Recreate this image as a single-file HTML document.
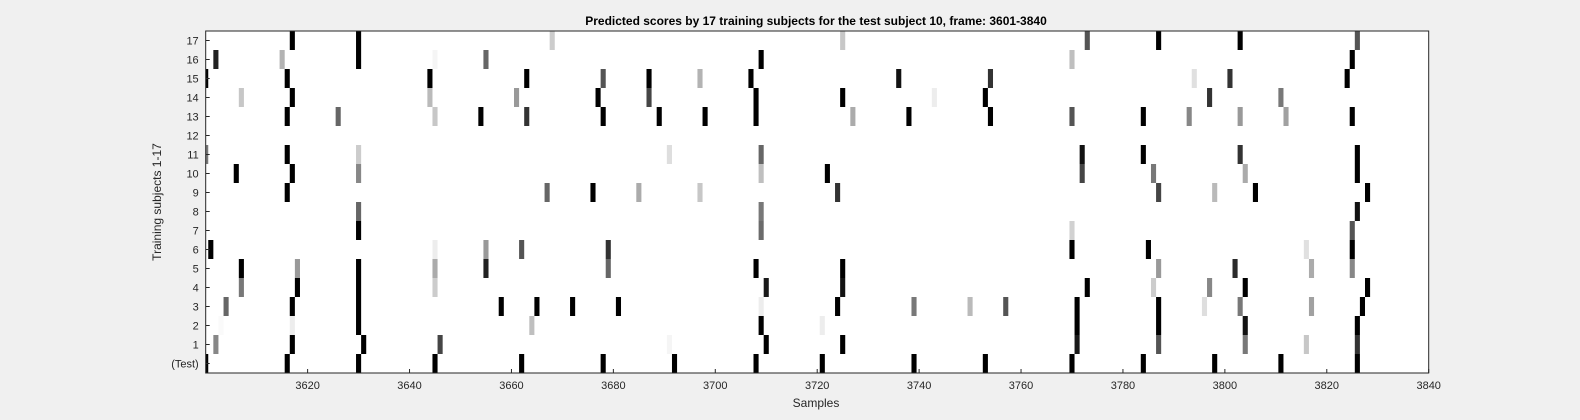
<!DOCTYPE html>
<html><head><meta charset="utf-8"><style>
html,body{margin:0;padding:0;background:#f0f0f0;}
svg{display:block;font-family:"Liberation Sans",Arial,sans-serif;}
</style></head><body>
<svg id="chart" width="1580" height="420" viewBox="0 0 1580 420">
<rect x="0" y="0" width="1580" height="420" fill="#f0f0f0"/>
<rect x="205.7" y="31" width="1223" height="342" fill="#ffffff"/>
<g id="cells"></g>
<g id="axes"></g>
<rect x="205.7" y="31" width="1223" height="342" fill="none" stroke="#262626" stroke-width="1"/>
<text x="816" y="25" text-anchor="middle" font-size="12" font-weight="bold" fill="#000">Predicted scores by 17 training subjects for the test subject 10, frame: 3601-3840</text>
<text x="816" y="407" text-anchor="middle" font-size="12" fill="#262626">Samples</text>
<text transform="translate(161,202) rotate(-90)" text-anchor="middle" font-size="12" fill="#262626">Training subjects 1-17</text>
</svg>
<script>
const rowLabels = ["(Test)","1","2","3","4","5","6","7","8","9","10","11","12","13","14","15","16","17"];
const xTicks = [3620,3640,3660,3680,3700,3720,3740,3760,3780,3800,3820,3840];
const rowSamples = [
 [3600,3616,3630,3645,3662,3678,3692,3708,3721,3739,3753,3770,3784,3798,3811,3826],
 [3602,3617,3631,3646,3691,3710,3725,3771,3787,3804,3816,3826],
 [3603,3617,3630,3664,3709,3721,3771,3787,3804,3826],
 [3604,3617,3630,3658,3665,3672,3681,3709,3724,3739,3750,3757,3771,3787,3796,3803,3817,3827],
 [3607,3618,3630,3645,3710,3725,3773,3786,3797,3804,3828],
 [3607,3618,3630,3645,3655,3679,3708,3725,3787,3802,3817,3825],
 [3601,3645,3655,3662,3679,3770,3785,3816,3825],
 [3630,3709,3770,3825],
 [3630,3709,3826],
 [3616,3667,3676,3685,3697,3724,3787,3798,3806,3828],
 [3606,3617,3630,3709,3722,3772,3786,3804,3826],
 [3600,3616,3630,3691,3709,3772,3784,3803,3826],
 [],
 [3616,3626,3645,3654,3663,3678,3689,3698,3708,3727,3738,3754,3770,3784,3793,3803,3812,3825],
 [3607,3617,3644,3661,3677,3687,3708,3725,3743,3753,3797,3811],
 [3600,3616,3644,3663,3678,3687,3697,3707,3736,3754,3794,3801,3824],
 [3602,3615,3630,3645,3655,3709,3770,3825],
 [3617,3630,3668,3725,3773,3787,3803,3826]
];
const rowScores = [
 [1,1,1,1,1,1,1,1,1,1,1,1,1,1,1,1],
 [.47,1,1,.73,.04,1,1,.9,.67,.53,.22,.8],
 [.02,.07,1,.25,1,.07,1,1,.93,1],
 [.6,1,1,1,1,1,1,.07,1,.53,.27,.67,1,1,.13,.53,.37,1],
 [.53,1,1,.2,.9,.93,1,.2,.47,1,1],
 [1,.4,1,.33,.87,.6,1,1,.4,.83,.33,.47],
 [1,.07,.4,.67,.8,1,1,.12,1],
 [1,.58,.18,.67],
 [.6,.53,.93],
 [1,.6,1,.33,.22,.8,.73,.27,1,1],
 [1,1,.47,.25,1,.73,.53,.33,1],
 [.53,1,.2,.13,.6,.93,1,.8,1],
 [],
 [1,.6,.22,1,.8,1,1,1,1,.33,1,1,.67,1,.47,.4,.37,1],
 [.22,1,.27,.4,1,.73,1,1,.07,1,.8,.53],
 [1,1,1,1,.67,1,.3,1,.93,.8,.12,.8,1],
 [.87,.3,1,.04,.6,1,.25,1],
 [1,1,.2,.22,.67,1,1,.67]
];
const X0=205.7, X1=1428.7, XMIN=3600, XMAX=3840, YTOP=31, YBOT=373;
const NS="http://www.w3.org/2000/svg";
function xScale(v){return X0+(v-XMIN)/(XMAX-XMIN)*(X1-X0);}
const rowH=(YBOT-YTOP)/rowLabels.length;
function yScale(r){return YBOT-(r+1)*rowH;}
const cells=document.getElementById('cells');
rowSamples.forEach((arr,r)=>{
  arr.forEach((s,i)=>{
    const v=rowScores[r][i];
    let a=xScale(s-0.5), b=xScale(s+0.5);
    a=Math.max(a,X0); b=Math.min(b,X1);
    const g=Math.round((1-v)*255);
    const rc=document.createElementNS(NS,'rect');
    rc.setAttribute('x',a.toFixed(2));
    rc.setAttribute('y',yScale(r).toFixed(2));
    rc.setAttribute('width',(b-a).toFixed(2));
    rc.setAttribute('height',rowH.toFixed(2));
    rc.setAttribute('fill','rgb('+g+','+g+','+g+')');
    
    
    cells.appendChild(rc);
  });
});
const axes=document.getElementById('axes');
xTicks.forEach(t=>{
  const x=xScale(t);
  const ln=document.createElementNS(NS,'line');
  ln.setAttribute('x1',x);ln.setAttribute('x2',x);
  ln.setAttribute('y1',YBOT);ln.setAttribute('y2',YBOT-4);
  ln.setAttribute('stroke','#262626');
  
  
  axes.appendChild(ln);
  const tx=document.createElementNS(NS,'text');
  tx.setAttribute('x',x);tx.setAttribute('y',YBOT+16);
  tx.setAttribute('text-anchor','middle');tx.setAttribute('font-size','11');
  tx.setAttribute('fill','#262626');
  tx.textContent=t;
  
  
  axes.appendChild(tx);
});
rowLabels.forEach((lab,r)=>{
  const y=yScale(r)+rowH/2;
  const ln=document.createElementNS(NS,'line');
  ln.setAttribute('x1',X0);ln.setAttribute('x2',X0+4);
  ln.setAttribute('y1',y);ln.setAttribute('y2',y);
  ln.setAttribute('stroke','#262626');
  
  
  axes.appendChild(ln);
  const tx=document.createElementNS(NS,'text');
  tx.setAttribute('x',X0-7);tx.setAttribute('y',y+4);
  tx.setAttribute('text-anchor','end');tx.setAttribute('font-size','11');
  tx.setAttribute('fill','#262626');
  tx.textContent=lab;
  
  
  axes.appendChild(tx);
});
</script>
</body></html>
